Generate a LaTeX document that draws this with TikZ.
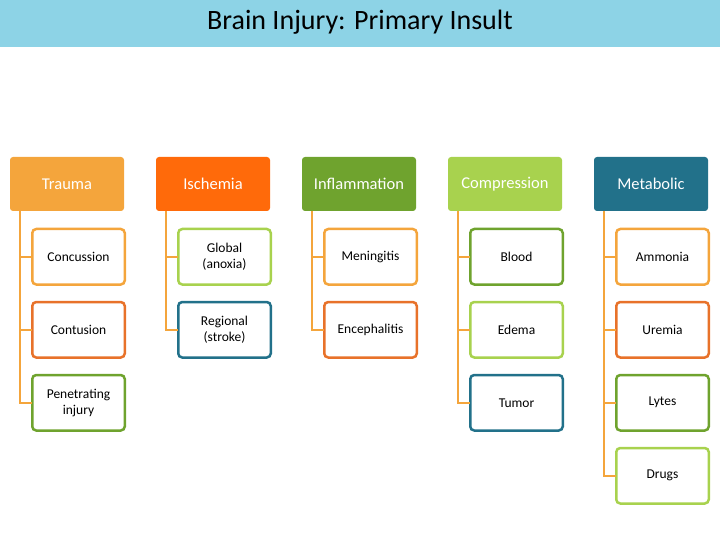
\documentclass[tikz,border=0pt]{standalone}
\usepackage{fontspec}
\setmainfont{Carlito}
\usetikzlibrary{positioning}
\definecolor{barblue}{HTML}{8DD3E6}
\definecolor{lorange}{HTML}{F4A53C}
\definecolor{dorange}{HTML}{E8722A}
\definecolor{igreen}{HTML}{6FA32E}
\definecolor{lgreen}{HTML}{A8D24E}
\definecolor{teal}{HTML}{22718A}
\definecolor{hot}{HTML}{FF6A0A}
\tikzset{
  head/.style={rounded corners=3pt, minimum width=114pt, minimum height=54pt,
    text=white, font=\fontsize{16.5}{18}\selectfont, inner sep=1pt, outer sep=0pt},
  item/.style={draw=#1, line width=2.5pt, rounded corners=4pt, fill=white,
    minimum width=92.5pt, minimum height=55.5pt, align=center, outer sep=0pt,
    font=\fontsize{13.5}{16}\selectfont, inner sep=1pt},
  link/.style={draw=lorange, line width=2.5pt}
}
\begin{document}
\begin{tikzpicture}[x=1pt,y=-1pt]
\useasboundingbox (0,0) rectangle (720,540);
\fill[barblue] (0,0) rectangle (720,47);
\node (title) at (360,22) {\fontsize{28}{32}\selectfont Brain Injury: Primary Insult};
% heads
\node [head, fill=lorange] (trauma) at (67,184) {Trauma};
\node [head, fill=hot] (isch) at (213,184) {Ischemia};
\node [head, fill=igreen] (infl) at (359,184) {Inflammation};
\node [head, fill=lgreen] (comp) at (505,184) {Compression};
\node [head, fill=teal] (meta) at (651,184) {Metabolic};
% trauma
\node [item=lorange, below=18pt of trauma, xshift=11.5pt] (conc) {Concussion};
\node [item=dorange, below=17.5pt of conc] (cont) {Contusion};
\node [item=igreen, below=17.5pt of cont] (pene) {Penetrating\\injury};
% ischemia
\node [item=lgreen, below=18pt of isch, xshift=11.5pt] (glob) {Global\\(anoxia)};
\node [item=teal, below=17.5pt of glob] (regi) {Regional\\(stroke)};
% inflammation
\node [item=lorange, below=18pt of infl, xshift=11.5pt] (meni) {Meningitis};
\node [item=dorange, below=17.5pt of meni] (ence) {Encephalitis};
% compression
\node [item=igreen, below=18pt of comp, xshift=11.5pt] (blood) {Blood};
\node [item=lgreen, below=17.5pt of blood] (edema) {Edema};
\node [item=teal, below=17.5pt of edema] (tumor) {Tumor};
% metabolic
\node [item=lorange, below=18pt of meta, xshift=11.5pt] (ammo) {Ammonia};
\node [item=dorange, below=17.5pt of ammo] (urem) {Uremia};
\node [item=igreen, below=17.5pt of urem] (lytes) {Lytes};
\node [item=lgreen, below=17.5pt of lytes] (drugs) {Drugs};
% links
\foreach \h/\list in {trauma/{conc,cont,pene}, isch/{glob,regi}, infl/{meni,ence},
    comp/{blood,edema,tumor}, meta/{ammo,urem,lytes,drugs}}
  \foreach \c in \list
    \draw[link] ([xshift=10pt]\h.south west) |- (\c.west);
\end{tikzpicture}
\end{document}
